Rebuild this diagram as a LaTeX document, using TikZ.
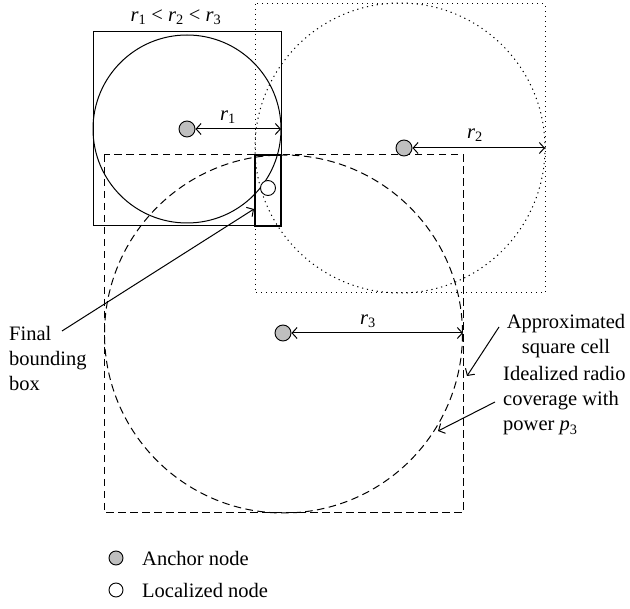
\documentclass[tikz,border=0pt]{standalone}
\usepackage{fontspec}
\setmainfont{Liberation Serif}
\usetikzlibrary{arrows.meta}
\begin{document}
\begin{tikzpicture}[x=1pt,y=-1pt,
  ln/.style={line width=1pt},
  anchornode/.style={circle,draw,fill=black!25,minimum size=16pt,inner sep=0pt,line width=0.9pt},
  locnode/.style={circle,draw,fill=white,minimum size=15pt,inner sep=0pt,line width=0.9pt},
  lbl/.style={font=\fontsize{20.5}{25}\selectfont, inner sep=0pt},
  dist/.style={ln,{Straight Barb[length=5pt,width=11pt]}-{Straight Barb[length=5pt,width=11pt]}},
  ptr/.style={ln,-{Straight Barb[length=5pt,width=11pt]}},
  mydash/.style={ln,dash pattern=on 7.5pt off 4.5pt},
  mydot/.style={ln,dash pattern=on 1.2pt off 3.8pt},
]
\useasboundingbox (0,0) rectangle (630,609);
% cell 1 (solid)
\draw[ln] (93,32) rectangle (281,226);
\draw[ln] (187,129) circle[radius=94];
% cell 2 (dotted)
\draw[mydot] (255,4) rectangle (545,293);
\draw[mydot] (400,148) circle[radius=145];
% cell 3 (dashed)
\draw[mydash] (104,155) rectangle (463,513);
\draw[mydash] (283.5,334) circle[radius=179];
% final bounding box
\draw[line width=2pt] (254.5,155) rectangle (281,226);
% nodes
\node[anchornode] (a1) at (187,129) {};
\node[anchornode] (a2) at (404,148) {};
\node[anchornode] (a3) at (283,333) {};
\node[locnode] (loc) at (268,188) {};
% radii
\coordinate (e1) at (281,129);
\coordinate (e2) at (545,148);
\coordinate (e3) at (463,333);
\draw[dist] (a1) -- (e1);
\draw[dist] (a2) -- (e2);
\draw[dist] (a3) -- (e3);
\node[lbl] (lr1) at (228,117) {\textit{r}\textsubscript{1}};
\node[lbl] (lr2) at (475,135) {\textit{r}\textsubscript{2}};
\node[lbl] (lr3) at (368,321) {\textit{r}\textsubscript{3}};
\node[lbl] (order) at (176,17) {\textit{r}\textsubscript{1} < \textit{r}\textsubscript{2} < \textit{r}\textsubscript{3}};
% labels with pointers
\node[lbl,align=left,anchor=west] (fbl) at (9,358) {Final\\bounding\\box};
\coordinate (fs) at (62,331);
\coordinate (ft) at (254,209);
\draw[ptr] (fs) -- (ft);
\node[lbl,align=center] (asc) at (566,336) {Approximated\\square cell};
\coordinate (as) at (499,327);
\coordinate (at) at (467,376);
\draw[ptr] (as) -- (at);
\node[lbl,align=left,anchor=west] (irc) at (503,401) {Idealized radio\\coverage with\\power \textit{p}\textsubscript{3}};
\coordinate (is) at (495,402);
\coordinate (it) at (438,431);
\draw[ptr] (is) -- (it);
% legend
\node[anchornode,minimum size=14pt] (leg1) at (116,558) {};
\node[lbl,anchor=west] (leg1t) at (142,558) {Anchor node};
\node[locnode,minimum size=14pt] (leg2) at (116,590) {};
\node[lbl,anchor=west] (leg2t) at (142,590) {Localized node};
\end{tikzpicture}
\end{document}
